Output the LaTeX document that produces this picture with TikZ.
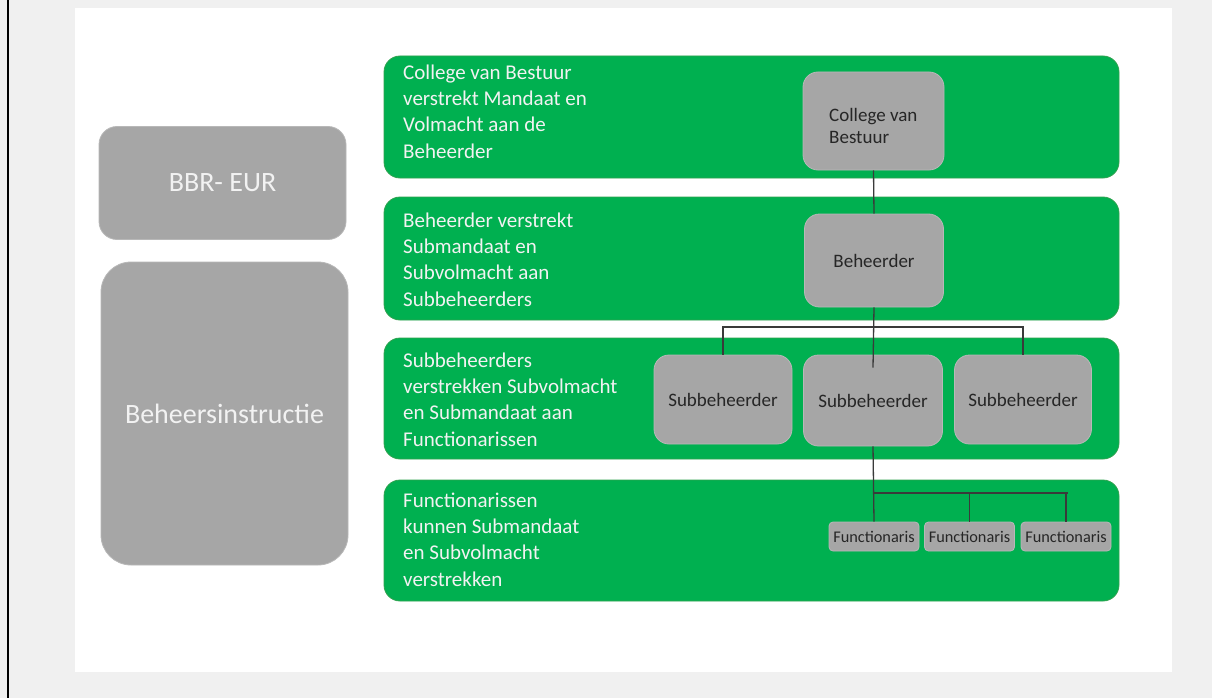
\documentclass[tikz,border=0pt]{standalone}
\usepackage{fontspec}
\setmainfont{Carlito}
\usetikzlibrary{calc}
\definecolor{bggray}{HTML}{F0F0F0}
\definecolor{bandgreen}{HTML}{00B050}
\definecolor{bandedge}{HTML}{2FA24F}
\definecolor{boxgray}{HTML}{A6A6A6}
\definecolor{boxedge}{HTML}{B8B8B8}
\definecolor{darktext}{HTML}{262626}
\definecolor{lighttext}{HTML}{F2F2F2}
\definecolor{linecol}{HTML}{3A3A3A}
\tikzset{
  band/.style={fill=bandgreen, draw=bandedge, line width=0.8pt, rounded corners=16pt, inner sep=0pt},
  bandtext/.style={anchor=base west, inner sep=0pt, align=left, text=lighttext,
    font=\fontsize{21}{26.3}\selectfont},
  gbox/.style={fill=boxgray, draw=boxedge, line width=0.8pt, rounded corners=15pt, inner sep=0pt,
    text=darktext, font=\fontsize{19}{22}\selectfont, align=left},
  fbox/.style={fill=boxgray, draw=boxedge, line width=0.8pt, rounded corners=4pt, inner sep=0pt,
    text=darktext, font=\fontsize{16.3}{19}\selectfont, minimum width=90pt, minimum height=29pt},
  sidebox/.style={fill=boxgray, draw=boxedge, line width=0.8pt, inner sep=0pt,
    text=lighttext, font=\fontsize{28}{32}\selectfont},
  conn/.style={draw=linecol, line width=1.3pt}
}
\begin{document}
\begin{tikzpicture}[x=1pt, y=-1pt]
\useasboundingbox (0,0) rectangle (1212,698);
\fill[bggray] (0,0) rectangle (1212,698);
\fill[white] (75,8) rectangle (1172,672);
\draw[black, line width=2pt] (8,0) -- (8,698);

% left boxes
\node[sidebox, rounded corners=18pt, minimum width=247pt, minimum height=113pt] (bbr) at (222.5,183) {BBR- EUR};
\node[sidebox, rounded corners=30pt, minimum width=247pt, minimum height=303pt] (bhi) at (224.5,413.5) {Beheersinstructie};

% bands
\node[band, minimum width=735pt, minimum height=122pt] (b1) at (751.5,117) {};
\node[band, minimum width=735pt, minimum height=123pt] (b2) at (751.5,258.5) {};
\node[band, minimum width=735pt, minimum height=121pt] (b3) at (751.5,398.5) {};
\node[band, minimum width=735pt, minimum height=121pt] (b4) at (751.5,540.5) {};

% base anchor of a multi-line node is the baseline of its last line
\node[bandtext] (t1) at (403,158) {College van Bestuur\\verstrekt Mandaat en\\Volmacht aan de\\Beheerder};
\node[bandtext] (t2) at (403,306) {Beheerder verstrekt\\Submandaat en\\Subvolmacht aan\\Subbeheerders};
\node[bandtext] (t3) at (403,446) {Subbeheerders\\verstrekken Subvolmacht\\en Submandaat aan\\Functionarissen};
\node[bandtext] (t4) at (403,586) {Functionarissen\\kunnen Submandaat\\en Subvolmacht\\verstrekken};

% org boxes
\node[gbox, minimum width=141pt, minimum height=98pt] (cvb) at (873.5,121) {};
\node[anchor=base west, inner sep=0pt, align=left, text=darktext, font=\fontsize{19}{22}\selectfont] (cvbt) at (829,143) {College van\\Bestuur};
\node[gbox, minimum width=139pt, minimum height=93pt] (beh) at (874,260.5) {Beheerder};
\node[gbox, minimum width=138pt, minimum height=89pt] (sb1) at (723,399.5) {Subbeheerder};
\node[gbox, minimum width=139pt, minimum height=91pt] (sb2) at (873,400.5) {Subbeheerder};
\node[gbox, minimum width=137pt, minimum height=89pt] (sb3) at (1023,399.5) {Subbeheerder};

\node[fbox] (fu1) at (874,536.5) {Functionaris};
\node[fbox] (fu2) at (969.5,536.5) {Functionaris};
\node[fbox] (fu3) at (1066,536.5) {Functionaris};

% connectors
\coordinate (hb) at (873,327);
\coordinate (hf) at (873,493);
\draw[conn] (cvb.south) -- (beh.north);
\draw[conn] (beh.south) -- ($(sb2.north)+(0,13)$);
\draw[conn] (sb1.north) -- (sb1.north |- hb) -- (sb3.north |- hb) -- (sb3.north);
\draw[conn] (sb2.south) -- (fu1.north);
\draw[conn] (fu1.north |- hf) -- ($(fu3.north |- hf)+(2,0)$);
\draw[conn] (fu2.north |- hf) -- (fu2.north);
\draw[conn] (fu3.north |- hf) -- (fu3.north);
\end{tikzpicture}
\end{document}
